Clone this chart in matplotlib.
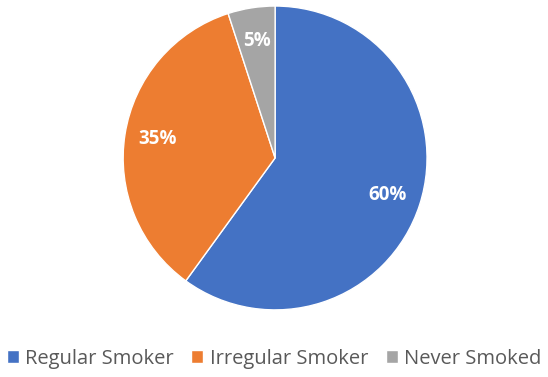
import matplotlib
matplotlib.use("Agg")
import matplotlib.pyplot as plt

categories = ["Regular Smoker", "Irregular Smoker", "Never Smoked"]
shares = [60, 35, 5]
colors = ["#4472C4", "#ED7D31", "#A5A5A5"]

plt.rcParams["font.family"] = ["Open Sans", "DejaVu Sans"]

fig = plt.figure(figsize=(5.48, 3.77), dpi=100)
ax = fig.add_axes([0.2245, 0.178, 0.555, 0.806])

wedges, texts, autotexts = ax.pie(
    shares,
    colors=colors,
    startangle=90,
    counterclock=False,
    autopct="%d%%",
    pctdistance=0.78,
    wedgeprops={"edgecolor": "white", "linewidth": 1},
)
for t in autotexts:
    t.set_color("white")
    t.set_fontweight("bold")
    t.set_fontsize(13.5)
ax.set_xlim(-1, 1)
ax.set_ylim(-1, 1)
ax.set_aspect("equal")

fig.legend(
    wedges,
    categories,
    loc="center",
    bbox_to_anchor=(0.5, 0.048),
    ncol=3,
    frameon=False,
    fontsize=14.5,
    handlelength=0.6,
    handleheight=0.6,
    handletextpad=0.3,
    columnspacing=0.9,
    labelcolor="#595959",
)

fig.savefig("out.png", dpi=100)
